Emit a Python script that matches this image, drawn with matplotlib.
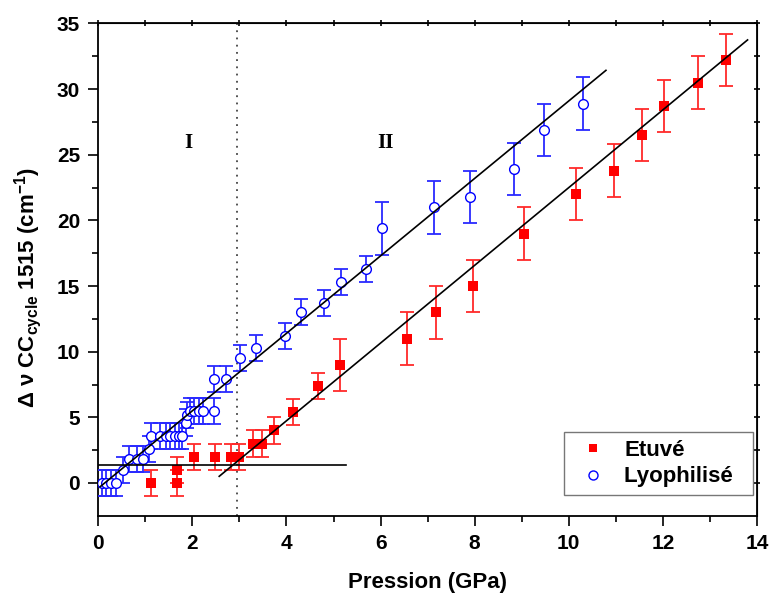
import matplotlib
matplotlib.use("Agg")
import matplotlib.pyplot as plt
from matplotlib.lines import Line2D
import numpy as np

plt.rcParams['font.family'] = ['Liberation Sans', 'DejaVu Sans']
plt.rcParams['mathtext.default'] = 'regular'

# Etuvé (red squares)
etuve_x = [1.11, 1.68, 1.68, 2.04, 2.49, 2.83, 3.00, 3.28, 3.47, 3.74, 4.13, 4.66,
           5.13, 6.57, 7.17, 7.96, 9.04, 10.15, 10.96, 11.55, 12.02, 12.74, 13.34]
etuve_y = [0.0, 1.0, 0.0, 2.0, 2.0, 2.0, 2.0, 3.0, 3.0, 4.0, 5.4, 7.4,
           9.0, 11.0, 13.0, 15.0, 19.0, 22.0, 23.8, 26.5, 28.7, 30.5, 32.2]
etuve_err = [1, 1, 1, 1, 1, 1, 1, 1, 1, 1, 1, 1,
             2, 2, 2, 2, 2, 2, 2, 2, 2, 2, 2]

# Lyophilisé (blue open circles)
lyo_x = [0.08, 0.17, 0.27, 0.37, 0.53, 0.66, 0.83, 0.96, 1.08,
         1.13, 1.32, 1.43, 1.53, 1.64, 1.72, 1.78, 1.87, 1.89,
         1.94, 2.04, 2.15, 2.23, 2.45, 2.45, 2.72, 3.02, 3.36, 3.96,
         4.30, 4.79, 5.15, 5.68, 6.04, 7.13, 7.91, 8.83, 9.47, 10.30]
lyo_y = [0.0, 0.0, 0.0, 0.0, 1.0, 1.8, 1.8, 1.8, 2.6,
         3.6, 3.6, 3.6, 3.6, 3.6, 3.6, 3.6, 4.6, 5.2,
         5.5, 5.5, 5.5, 5.5, 5.5, 7.9, 7.9, 9.5, 10.3, 11.2,
         13.0, 13.7, 15.3, 16.3, 19.4, 21.0, 21.8, 23.9, 26.9, 28.9]
lyo_err = [1] * 32 + [2] * 6

# Linear fits (endpoints) and guide lines
fit_lyo_x = [0.04, 10.79]
fit_lyo_coef = (2.95, -0.40)
fit_etuve_x = [2.57, 13.80]
fit_etuve_coef = (2.96, -7.10)
hline_y = 1.37
hline_x = [0.0, 5.26]
vline_x = 2.95

fig = plt.figure(figsize=(7.71, 5.99), dpi=100)
ax = fig.add_axes([0.1275, 0.1389, 0.9818 - 0.1275, 0.9608 - 0.1389])

red = '#ff0000'
blue = '#0000ff'
ax.errorbar(etuve_x, etuve_y, yerr=etuve_err, fmt='none',
            ecolor='#ff2a2a', elinewidth=1.3, capsize=5, capthick=1.3, zorder=3)
ax.plot(etuve_x, etuve_y, 's', color=red, markersize=6.5, markeredgewidth=0, zorder=3.5)
ax.errorbar(lyo_x, lyo_y, yerr=lyo_err, fmt='none',
            ecolor='#2a2aff', elinewidth=1.3, capsize=5, capthick=1.3, zorder=4)
ax.plot(lyo_x, lyo_y, 'o', color=blue, markersize=7, markerfacecolor='white',
        markeredgewidth=1.0, zorder=4.5)

fx = np.array(fit_lyo_x)
ax.plot(fx, fit_lyo_coef[0] * fx + fit_lyo_coef[1], color='black', lw=1.2, zorder=5)
fx = np.array(fit_etuve_x)
ax.plot(fx, fit_etuve_coef[0] * fx + fit_etuve_coef[1], color='black', lw=1.2, zorder=5)
ax.plot(hline_x, [hline_y, hline_y], color='black', lw=1.2, zorder=5)
ax.axvline(vline_x, color='#444444', lw=1.3, linestyle=(0, (1, 3)), zorder=2)

ax.text(1.91, 25.9, 'I', family='Liberation Serif', fontweight='bold',
        fontsize=15, ha='center', va='center')
ax.text(6.1, 25.9, 'II', family='Liberation Serif', fontweight='bold',
        fontsize=15, ha='center', va='center')

ax.set_xlim(0, 14)
ax.set_ylim(-2.5, 35)
ax.set_xticks(np.arange(0, 15, 2))
ax.set_xticks(np.arange(1, 15, 2), minor=True)
ax.set_yticks(np.arange(0, 36, 5))
ax.set_yticks(np.arange(2.5, 35, 5), minor=True)
ax.tick_params(axis='both', which='major', direction='out', length=7, width=1.2,
               labelsize=15, pad=6)
ax.tick_params(axis='both', which='minor', direction='out', length=4, width=1.2)
for lab in ax.get_xticklabels() + ax.get_yticklabels():
    lab.set_fontweight('bold')
for s in ax.spines.values():
    s.set_linewidth(1.3)

# small mirror ticks on top and right
secx = ax.secondary_xaxis('top')
secx.set_xticks(np.arange(0, 15, 1))
secx.tick_params(direction='inout', length=4, width=1.2, labeltop=False)
secy = ax.secondary_yaxis('right')
secy.set_yticks(np.arange(0, 35.1, 2.5))
secy.tick_params(direction='inout', length=4, width=1.2, labelright=False)

ax.set_xlabel('Pression (GPa)', fontsize=16, fontweight='bold', labelpad=14)
ax.set_ylabel('Δ ν CC$_{cycle}$ 1515 (cm$^{-1}$)', fontsize=16, fontweight='bold')
ax.yaxis.set_label_coords(-0.083, 0.463)

handles = [
    Line2D([], [], linestyle='none', marker='s', color=red, markersize=6,
           markeredgewidth=0, label='Etuvé'),
    Line2D([], [], linestyle='none', marker='o', color=blue, markersize=6.5,
           markerfacecolor='white', markeredgewidth=1.0, label='Lyophilisé  '),
]
leg = ax.legend(handles=handles, loc='lower right', bbox_to_anchor=(0.994, 0.042),
                borderaxespad=0, frameon=True, fancybox=False, edgecolor='#555555',
                prop={'size': 16, 'weight': 'bold'}, handlelength=1.9,
                handletextpad=0.45, borderpad=0.35, labelspacing=0.25)
leg.get_frame().set_linewidth(1.0)

fig.savefig('out.png', dpi=100)
